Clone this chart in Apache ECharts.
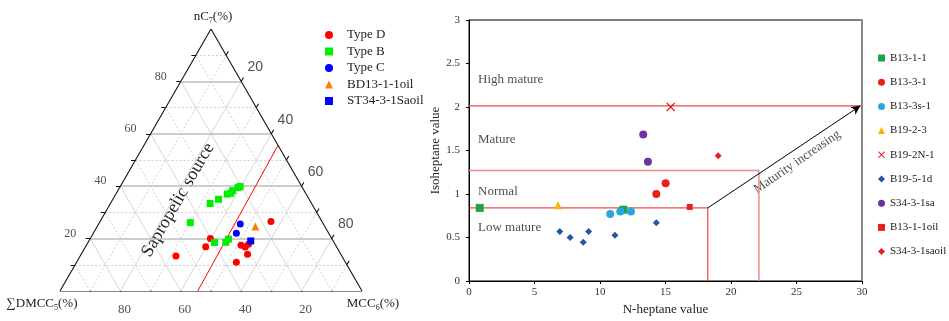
<!DOCTYPE html>
<html><head><meta charset="utf-8">
<script src="https://cdn.jsdelivr.net/npm/echarts@6/dist/echarts.min.js"></script>
<style>html,body{margin:0;padding:0;background:#fff}#c{width:949px;height:321px}</style>
</head><body><div id="c"></div>
<script>
// ---------- Ternary diagram data: [ΣDMCC5, MCC6, nC7] (%)
const typeD = [[54.9,31.7,13.4],[43.3,39.8,16.9],[40.2,39.8,20.0],[31.3,51.2,17.5],[30.3,52.9,16.8],[28.7,53.5,17.8],[30.9,55.1,14.0],[36.1,52.9,11.0],[16.9,56.6,26.5]];
const typeB = [[43.8,30.1,26.1],[33.6,33.0,33.4],[30.0,35.0,35.0],[26.1,36.9,37.0],[24.8,37.9,37.3],[23.7,38.0,38.3],[21.3,39.2,39.5],[20.4,39.7,39.9],[39.6,41.9,18.5],[35.8,45.6,18.6],[34.3,45.9,19.8]];
const typeC = [[27.5,46.9,25.6],[30.6,47.4,22.0]];
const bd13oil = [[23.0,52.4,24.6]];
const st34oil = [[27.3,53.6,19.1]];
const ternTicks = [10,20,30,40,50,60,70,80,90];
const ternLabels = [20,40,60,80];
const sourceLine = [[54.4,45.6,0],[0,44.4,55.6]];

// ---------- Maturity scatter data: [N-heptane value, Isoheptane value]
const b1311 = [[0.82,0.84],[11.78,0.82]];
const b1331 = [[14.3,1.0],[15.01,1.125]];
const b133s1 = [[10.78,0.77],[11.55,0.80],[12.36,0.80]];
const b1923 = [[6.8,0.87]];
const b192n1 = [[15.4,2.0]];
const b1951d = [[6.93,0.57],[7.72,0.50],[8.72,0.446],[9.13,0.57],[11.14,0.525],[14.3,0.67]];
const s3431sa = [[13.3,1.684],[13.66,1.372]];
const b1311oil = [[16.85,0.851]];
const s3431saoil = [[19.02,1.44]];
const highLine = [[0,2.013],[30,2.013]];
const matureBox = [[0,1.27],[22.13,1.27],[22.13,0]];
const lowBox = [[0,0.84],[18.23,0.84],[18.23,0]];
const arrow = [[18.23,0.84],[29.87,2.013]];
const zoneLabels = [[0.69,2.31,'High mature'],[0.69,1.62,'Mature'],[0.69,1.024,'Normal'],[0.69,0.619,'Low mature']];
const arrowLabel = [[25.05,1.369,'Maturity increasing']];

const SERIF = '"Liberation Serif","Times New Roman",serif';
const SANS = '"Liberation Sans",Arial,sans-serif';
const S3 = Math.sqrt(3) / 2;
function tern(p) { const m = p[1], n = p[2]; return [m + n / 2, n * S3]; }

const gridEvenH = [], gridEven = [], gridOdd = [], tickSegs = [];
const TL = 1.5;
ternTicks.forEach(k => {
  const segs = [
    [[100 - k, 0, k], [0, 100 - k, k]],
    [[100 - k, k, 0], [0, k, 100 - k]],
    [[k, 100 - k, 0], [k, 0, 100 - k]]
  ];
  segs.forEach((s, i) => {
    const item = { coords: [tern(s[0]), tern(s[1])] };
    if (k % 20 === 0) { (i === 0 ? gridEvenH : gridEven).push(item); } else gridOdd.push(item);
  });
  const a = tern([100 - k, 0, k]); tickSegs.push({ coords: [a, [a[0] - TL, a[1]]] });
  const b = tern([0, k, 100 - k]); tickSegs.push({ coords: [b, [b[0] + TL * 0.5, b[1] + TL * S3]] });
  const c = tern([k, 100 - k, 0]); tickSegs.push({ coords: [c, [c[0] + TL * 0.5, c[1] - TL * S3]] });
});
const edges = [
  { coords: [tern([100, 0, 0]), tern([0, 100, 0])] },
  { coords: [tern([0, 100, 0]), tern([0, 0, 100])] },
  { coords: [tern([0, 0, 100]), tern([100, 0, 0])] }
];

function ternSeries(name, arr, symbol, size, color) {
  return { name, type: 'scatter', xAxisIndex: 0, yAxisIndex: 0, symbol, symbolSize: size,
    itemStyle: { color, opacity: 1 }, data: arr.map(tern), z: 5 };
}
function labelSeries(values, mapper, offset, font, size) {
  return { type: 'scatter', xAxisIndex: 0, yAxisIndex: 0, symbolSize: 0, silent: true,
    data: values.map(k => ({ value: mapper(k), label: { formatter: String(k) } })),
    label: { show: true, position: 'inside', offset, fontFamily: font, fontSize: size, color: '#222' } };
}
function sc(name, arr, symbol, size, color) {
  return { name, type: 'scatter', xAxisIndex: 1, yAxisIndex: 1, symbol, symbolSize: size,
    itemStyle: { color, opacity: 1 }, data: arr, z: 5 };
}
function ln(arr, color, width) {
  return { type: 'line', xAxisIndex: 1, yAxisIndex: 1, data: arr, symbol: 'none', silent: true,
    lineStyle: { color, width }, z: 3 };
}
const XPATH = 'path://M0,1L1,0L5,4L9,0L10,1L6,5L10,9L9,10L5,6L1,10L0,9L4,5Z';

const chart = echarts.init(document.getElementById('c'));
chart.setOption({
  animation: false,
  backgroundColor: '#fff',
  grid: [
    { left: 60, top: 29, width: 302, height: 262 },
    { left: 469, top: 20, width: 393, height: 267, show: true, borderColor: '#000', borderWidth: 1 }
  ],
  xAxis: [
    { gridIndex: 0, type: 'value', min: 0, max: 100, show: false },
    { gridIndex: 1, type: 'value', min: 0, max: 30, interval: 5,
      name: 'N-heptane value', nameLocation: 'middle', nameGap: 22,
      nameTextStyle: { fontFamily: SERIF, fontSize: 13, color: '#222' },
      axisLine: { lineStyle: { color: '#000', width: 1 } },
      axisTick: { show: true, length: 3, lineStyle: { color: '#000' } },
      axisLabel: { fontFamily: SERIF, fontSize: 11, color: '#333', margin: 6 },
      splitLine: { show: false } }
  ],
  yAxis: [
    { gridIndex: 0, type: 'value', min: 0, max: 86.6025, show: false },
    { gridIndex: 1, type: 'value', min: 0, max: 3, interval: 0.5,
      name: 'Isoheptane value', nameLocation: 'middle', nameGap: 26,
      nameTextStyle: { fontFamily: SERIF, fontSize: 13, color: '#222' },
      axisLine: { lineStyle: { color: '#000', width: 1 } },
      axisTick: { show: true, length: 3, lineStyle: { color: '#000' } },
      axisLabel: { fontFamily: SERIF, fontSize: 11, color: '#333', margin: 9 },
      splitLine: { show: false } },
    { gridIndex: 1, type: 'value', min: 0, max: 3, interval: 0.5, position: 'right',
      axisLine: { show: true, lineStyle: { color: '#888', width: 2 } },
      axisTick: { show: false }, axisLabel: { show: false }, splitLine: { show: false } }
  ],
  legend: [
    { data: ['Type D', 'Type B', 'Type C', 'BD13-1-1oil', 'ST34-3-1Saoil'], orient: 'vertical',
      left: 325, top: 28, padding: 0, itemWidth: 8, itemHeight: 8, itemGap: 2.5, selectedMode: false,
      textStyle: { fontFamily: SERIF, fontSize: 13, color: '#222', lineHeight: 14, padding: [0, 0, 0, 9] } },
    { data: ['B13-1-1', 'B13-3-1', 'B13-3s-1', 'B19-2-3', 'B19-2N-1', 'B19-5-1d', 'S34-3-1sa', 'B13-1-1oil', 'S34-3-1saoil'],
      orient: 'vertical', left: 878, top: 51, padding: 0, itemWidth: 7, itemHeight: 7, itemGap: 10.2, selectedMode: false,
      textStyle: { fontFamily: SERIF, fontSize: 11, color: '#222', lineHeight: 14 } }
  ],
  graphic: [
    { type: 'text', x: 213, y: 17, style: { text: '{a|nC}{s|7}{a|(%)}', align: 'center', verticalAlign: 'middle',
      rich: { a: { fontFamily: SERIF, fontSize: 13, fill: '#222', lineHeight: 16 }, s: { fontFamily: SERIF, fontSize: 8, fill: '#222', lineHeight: 10, verticalAlign: 'bottom' } } } },
    { type: 'text', x: 42, y: 304, style: { text: '{a|∑DMCC}{s|5}{a|(%)}', align: 'center', verticalAlign: 'middle',
      rich: { a: { fontFamily: SERIF, fontSize: 13, fill: '#222', lineHeight: 16 }, s: { fontFamily: SERIF, fontSize: 8, fill: '#222', lineHeight: 10, verticalAlign: 'bottom' } } } },
    { type: 'text', x: 373, y: 304, style: { text: '{a|MCC}{s|6}{a|(%)}', align: 'center', verticalAlign: 'middle',
      rich: { a: { fontFamily: SERIF, fontSize: 13, fill: '#222', lineHeight: 16 }, s: { fontFamily: SERIF, fontSize: 8, fill: '#222', lineHeight: 10, verticalAlign: 'bottom' } } } },
    { type: 'text', x: 178, y: 200, rotation: Math.PI / 3, style: { text: 'Sapropelic source', font: '18px ' + SERIF, fill: '#222', align: 'center', verticalAlign: 'middle' } }
  ],
  series: [
    { type: 'lines', coordinateSystem: 'cartesian2d', xAxisIndex: 0, yAxisIndex: 0, silent: true, z: 1,
      data: gridOdd, lineStyle: { color: '#c4c4c4', width: 0.8, type: [2, 2], opacity: 1 } },
    { type: 'lines', coordinateSystem: 'cartesian2d', xAxisIndex: 0, yAxisIndex: 0, silent: true, z: 1,
      data: gridEven, lineStyle: { color: '#cccccc', width: 0.8, opacity: 1 } },
    { type: 'lines', coordinateSystem: 'cartesian2d', xAxisIndex: 0, yAxisIndex: 0, silent: true, z: 1,
      data: gridEvenH, lineStyle: { color: '#bdbdbd', width: 1.6, opacity: 1 } },
    { type: 'lines', coordinateSystem: 'cartesian2d', xAxisIndex: 0, yAxisIndex: 0, silent: true, z: 2,
      data: edges.concat(tickSegs), lineStyle: { color: '#111', width: 1.1, opacity: 1 } },
    { type: 'lines', coordinateSystem: 'cartesian2d', xAxisIndex: 0, yAxisIndex: 0, silent: true, z: 2,
      data: [{ coords: sourceLine.map(tern) }], lineStyle: { color: '#ff0000', width: 1, opacity: 1 } },
    labelSeries(ternLabels, k => tern([100 - k, 0, k]), [-20, -5], SERIF, 12),
    labelSeries(ternLabels, k => tern([0, k, 100 - k]), [14, -14], SANS, 14),
    labelSeries(ternLabels, k => tern([k, 100 - k, 0]), [4, 19], SERIF, 13),
    ternSeries('Type D', typeD, 'circle', 7, '#ff0000'),
    ternSeries('Type B', typeB, 'rect', 7, '#00ee00'),
    ternSeries('Type C', typeC, 'circle', 7, '#0000ff'),
    ternSeries('BD13-1-1oil', bd13oil, 'triangle', 8, '#ff7f00'),
    ternSeries('ST34-3-1Saoil', st34oil, 'rect', 7, '#0000ff'),

    ln(highLine, '#e84a4a', 1.2),
    ln(matureBox, '#f08a8a', 1.5),
    ln(lowBox, '#e8211f', 1),
    { type: 'line', xAxisIndex: 1, yAxisIndex: 1, data: [], silent: true,
      markLine: { silent: true, symbol: ['none', 'arrow'], symbolSize: [7, 9], animation: false,
        label: { show: false }, lineStyle: { color: '#000', width: 1, type: 'solid' },
        data: [[{ coord: arrow[0] }, { coord: arrow[1] }]] } },
    { type: 'scatter', xAxisIndex: 1, yAxisIndex: 1, symbolSize: 0, silent: true, data: zoneLabels,
      label: { show: true, position: 'right', distance: 0, formatter: p => p.data[2], fontFamily: SERIF, fontSize: 13, color: '#222' } },
    { type: 'scatter', xAxisIndex: 1, yAxisIndex: 1, symbolSize: 0, silent: true, data: arrowLabel,
      label: { show: true, position: 'inside', rotate: 34.4, formatter: p => p.data[2], fontFamily: SERIF, fontSize: 13, color: '#222' } },
    sc('B13-1-1', b1311, 'rect', 8, '#1fa34a'),
    sc('B13-3-1', b1331, 'circle', 8, '#e8211f'),
    sc('B13-3s-1', b133s1, 'circle', 8, '#2aa6e0'),
    sc('B19-2-3', b1923, 'triangle', 8, '#f5b400'),
    sc('B19-2N-1', b192n1, XPATH, 9, '#e8211f'),
    sc('B19-5-1d', b1951d, 'diamond', 7, '#2456a6'),
    sc('S34-3-1sa', s3431sa, 'circle', 8, '#7030a0'),
    sc('B13-1-1oil', b1311oil, 'rect', 6, '#e8211f'),
    sc('S34-3-1saoil', s3431saoil, 'diamond', 7, '#e8211f')
  ]
});
</script></body></html>
